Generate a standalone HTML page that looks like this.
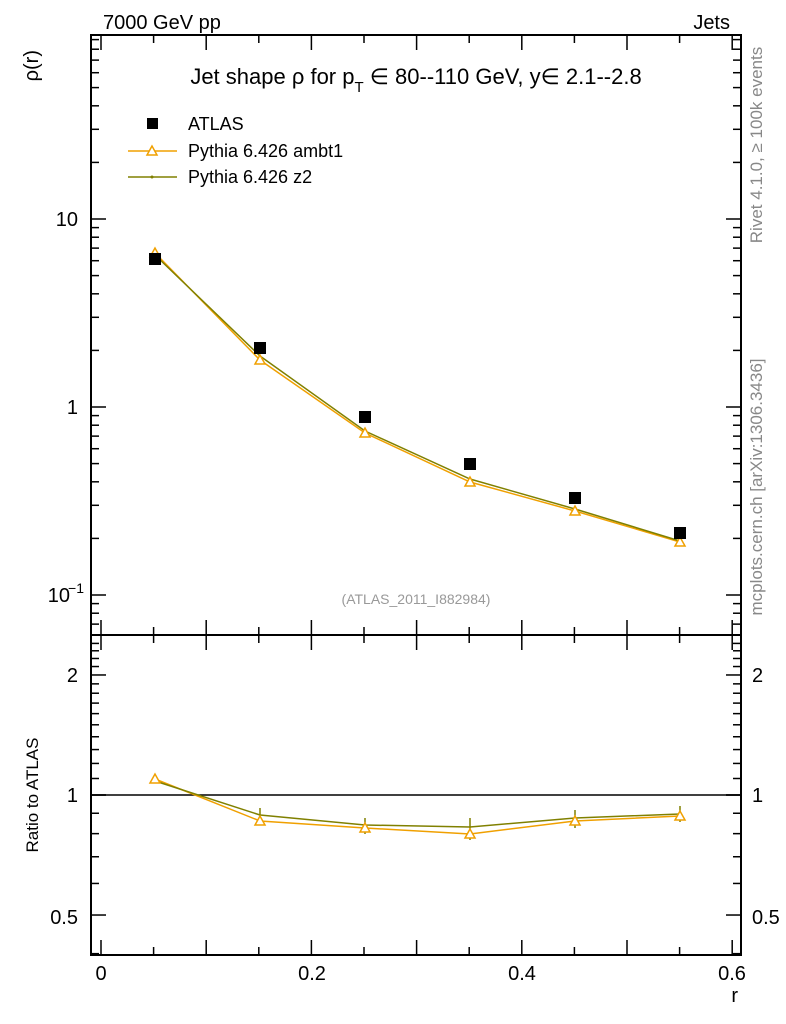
<!DOCTYPE html>
<html><head><meta charset="utf-8"><style>
body{margin:0;background:#fff}
svg{display:block;font-family:"Liberation Sans",sans-serif}
</style></head><body>
<svg id="s" width="786" height="1024" viewBox="0 0 786 1024" xmlns="http://www.w3.org/2000/svg">
<rect width="786" height="1024" fill="#fff"/>
<g id="ticks" stroke="#000" stroke-width="1.5"></g>
<rect x="91" y="35" width="650" height="600" fill="none" stroke="#000" stroke-width="2"/>
<rect x="91" y="635" width="650" height="320" fill="none" stroke="#000" stroke-width="2"/>
<text x="103" y="29" font-size="20">7000 GeV pp</text>
<text x="730" y="29" font-size="20" text-anchor="end">Jets</text>
<text x="416" y="84" font-size="22" text-anchor="middle">Jet shape ρ for p<tspan font-size="15" dy="8">T</tspan><tspan dy="-8"> ∈ 80--110 GeV, y∈ 2.1--2.8</tspan></text>
<text transform="translate(38,50) rotate(-90)" font-size="20" text-anchor="end">ρ(r)</text>
<text transform="translate(38,795) rotate(-90)" font-size="17" text-anchor="middle">Ratio to ATLAS</text>
<text x="738" y="1002" font-size="20" text-anchor="end">r</text>
<text transform="translate(762,145) rotate(-90)" font-size="17" fill="#888" text-anchor="middle">Rivet 4.1.0, ≥ 100k events</text>
<text transform="translate(762,487) rotate(-90)" font-size="17" fill="#888" text-anchor="middle">mcplots.cern.ch [arXiv:1306.3436]</text>
<text x="416" y="604" font-size="14" fill="#999" text-anchor="middle">(ATLAS_2011_I882984)</text>
<g font-size="20" text-anchor="end">
<text x="78" y="226">10</text><text x="78" y="414">1</text>
<text x="70" y="602">10</text><text x="84" y="593" font-size="14">−1</text>
<text x="78" y="682">2</text><text x="78" y="802">1</text><text x="78" y="924">0.5</text>
</g>
<g font-size="20" text-anchor="start">
<text x="752" y="682">2</text><text x="752" y="802">1</text><text x="752" y="924">0.5</text>
</g>
<g font-size="20" text-anchor="middle">
<text x="101" y="980">0</text><text x="312" y="980">0.2</text><text x="522" y="980">0.4</text><text x="732" y="980">0.6</text>
</g>
<!-- legend -->
<rect x="147" y="118" width="11" height="11" fill="#000"/>
<text x="188" y="130" font-size="18">ATLAS</text>
<line x1="128" y1="151" x2="177" y2="151" stroke="#f0a000" stroke-width="1.5"/>
<polygon points="152,146 147,155 157,155" fill="#fff" stroke="#f0a000" stroke-width="1.5"/>
<text x="188" y="157" font-size="18">Pythia 6.426 ambt1</text>
<line x1="128" y1="177" x2="177" y2="177" stroke="#808000" stroke-width="1.5"/>
<circle cx="152" cy="177" r="1.5" fill="#808000"/>
<text x="188" y="183" font-size="18">Pythia 6.426 z2</text>
<!-- main -->
<line x1="91" y1="795" x2="741" y2="795" stroke="#000" stroke-width="1.5"/>
<polyline points="155,253 260,360 365,433 470,482 575,511 680,542" fill="none" stroke="#f0a000" stroke-width="1.5"/>
<polyline points="155,255 260,356 365,431 470,479 575,509 680,541" fill="none" stroke="#808000" stroke-width="1.5"/>
<g fill="#fff" stroke="#f0a000" stroke-width="1.5" id="tri1"></g>
<g fill="#000">
<rect x="149" y="253" width="12" height="12"/><rect x="254" y="342" width="12" height="12"/>
<rect x="359" y="411" width="12" height="12"/><rect x="464" y="458" width="12" height="12"/>
<rect x="569" y="492" width="12" height="12"/><rect x="674" y="527" width="12" height="12"/>
</g>
<!-- ratio -->
<polyline points="155,779 260,821 365,828 470,834 575,821 680,816" fill="none" stroke="#f0a000" stroke-width="1.5"/>
<polyline points="155,781 260,815 365,825 470,827 575,818 680,814" fill="none" stroke="#808000" stroke-width="1.5"/>
<g stroke="#808000" stroke-width="1.5">
<line x1="260" y1="808" x2="260" y2="824"/><line x1="365" y1="818" x2="365" y2="834"/>
<line x1="470" y1="818" x2="470" y2="840"/><line x1="575" y1="810" x2="575" y2="828"/>
<line x1="680" y1="806" x2="680" y2="822"/>
</g>
<g fill="#fff" stroke="#f0a000" stroke-width="1.5" id="tri2"></g>
</svg>
<script>
var NS="http://www.w3.org/2000/svg",g=document.getElementById("ticks");
function L(x1,y1,x2,y2){var l=document.createElementNS(NS,"line");l.setAttribute("x1",x1);l.setAttribute("y1",y1);l.setAttribute("x2",x2);l.setAttribute("y2",y2);g.appendChild(l);}
for(var k=-2;k<=1;k++)for(var m=1;m<=9;m++){var v=m*Math.pow(10,k);var y=219-(Math.log10(v)-1)*188;if(y<36||y>634)continue;var len=m==1?15:8;L(91,y,91+len,y);L(741,y,741-len,y);}
function ry(v){return 795-Math.log10(v)*398.7;}
var rv=[];for(var v=0.4;v<1;v+=0.1)rv.push(+v.toFixed(1));for(v=1;v<=2.5;v+=0.1)rv.push(+v.toFixed(1));
rv.forEach(function(v){var y=ry(v);if(y<636||y>954)return;var big=(v==0.5||v==1||v==2);var len=big?15:8;L(91,y,91+len,y);L(741,y,741-len,y);});
for(var i=0;i<=12;i++){var x=101+i*52.6;if(x>740)continue;var len=(i%2==0)?15:8;
L(x,635,x,635-len);L(x,35,x,35+len);L(x,955,x,955-len);L(x,635,x,635+len);}
function tri(id,pts){var gg=document.getElementById(id);pts.forEach(function(p){var t=document.createElementNS(NS,"polygon");t.setAttribute("points",(p[0])+","+(p[1]-5)+" "+(p[0]-5)+","+(p[1]+4)+" "+(p[0]+5)+","+(p[1]+4));gg.appendChild(t);});}
tri("tri1",[[155,253],[260,360],[365,433],[470,482],[575,511],[680,542]]);
tri("tri2",[[155,779],[260,821],[365,828],[470,834],[575,821],[680,816]]);
</script>
</body></html>
